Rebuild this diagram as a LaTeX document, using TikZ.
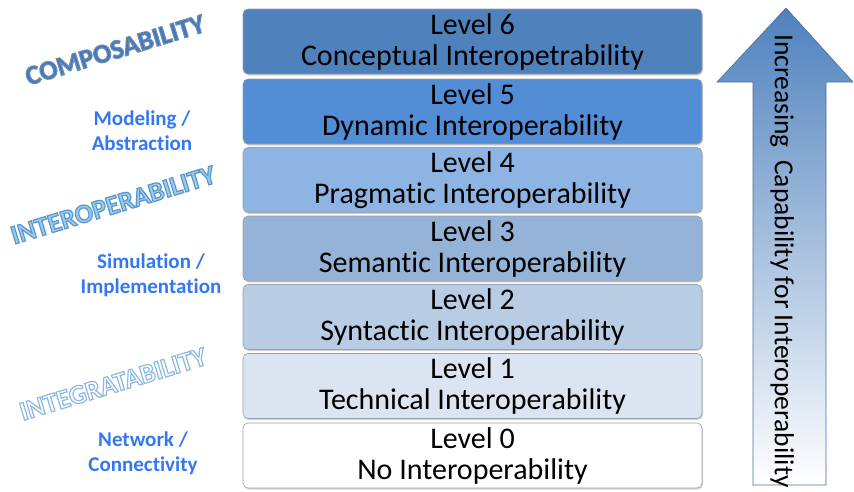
\documentclass[tikz,border=0pt]{standalone}
\usepackage{fontspec}
\setmainfont{Carlito}[RawFeature={-liga;-clig;-calt}]
\usetikzlibrary{shadows}
\definecolor{c6}{RGB}{79,129,189}
\definecolor{c5}{RGB}{83,141,213}
\definecolor{c4}{RGB}{141,180,226}
\definecolor{c3}{RGB}{149,179,215}
\definecolor{c2}{RGB}{184,204,228}
\definecolor{c1}{RGB}{219,229,241}
\definecolor{c0}{RGB}{255,255,255}
\definecolor{boxline}{RGB}{150,160,175}
\definecolor{lblue}{RGB}{51,120,240}
\definecolor{compblue}{RGB}{62,122,196}
\definecolor{interfill}{RGB}{150,205,240}
\definecolor{arrline}{RGB}{75,110,160}
\newcommand{\outlinetext}[4]{{\color{#1}\special{pdf:literal direct 2 Tr #3 w #2 RG}#4\special{pdf:literal direct 0 Tr}}}
\tikzset{
  levelbox/.style={draw=boxline, line width=0.6pt, rounded corners=5pt,
    minimum width=459pt, minimum height=65pt, align=center,
    font=\fontsize{30}{31}\selectfont, inner sep=0pt,
    drop shadow={opacity=0.35, shadow xshift=1pt, shadow yshift=-1.5pt, fill=gray}},
  sublabel/.style={text=lblue, align=center, font=\bfseries\fontsize{21}{25}\selectfont},
  biglabel/.style={rotate=17, font=\bfseries\fontsize{27}{30}\selectfont}
}
\begin{document}
\begin{tikzpicture}[x=1pt,y=-1pt]
\useasboundingbox (0,0) rectangle (854,491);
\node[levelbox, fill=c6] (L6) at (472.5,41.5) {Level 6\\Conceptual Interopetrability};
\node[levelbox, fill=c5] (L5) at (472.5,111.5) {Level 5\\Dynamic Interoperability};
\node[levelbox, fill=c4] (L4) at (472.5,180) {Level 4\\Pragmatic Interoperability};
\node[levelbox, fill=c3] (L3) at (472.5,248.5) {Level 3\\Semantic Interoperability};
\node[levelbox, fill=c2] (L2) at (472.5,317) {Level 2\\Syntactic Interoperability};
\node[levelbox, fill=c1] (L1) at (472.5,386) {Level 1\\Technical Interoperability};
\node[levelbox, fill=c0] (L0) at (472.5,455.5) {Level 0\\No Interoperability};
% arrow
\path[draw=arrline, line width=0.6pt, top color=c6, bottom color=white]
  (786,8) -- (853,82) -- (826,82) -- (826,485) -- (753,485) -- (753,82) -- (717,82) -- cycle;
\node[rotate=-90, font=\fontsize{27.5}{30}\selectfont] (arrtext) at (782,261) {Increasing\ \ Capability for Interoperability};
% left labels
\node[biglabel] (comp) at (115,50) {\outlinetext{compblue}{0.45 0.55 0.68}{1.1}{COMPOSABILITY}};
\node[sublabel] (model) at (142,131) {Modeling /\\Abstraction};
\node[biglabel] (inter) at (113,205) {\outlinetext{interfill}{0.37 0.59 0.80}{1.2}{INTEROPERABILITY}};
\node[sublabel] (sim) at (151,275) {Simulation /\\Implementation};
\node[biglabel] (integ) at (113,384) {\outlinetext{white}{0.55 0.72 0.88}{1.2}{INTEGRATABILITY}};
\node[sublabel] (net) at (143,453) {Network /\\Connectivity};
\end{tikzpicture}
\end{document}
